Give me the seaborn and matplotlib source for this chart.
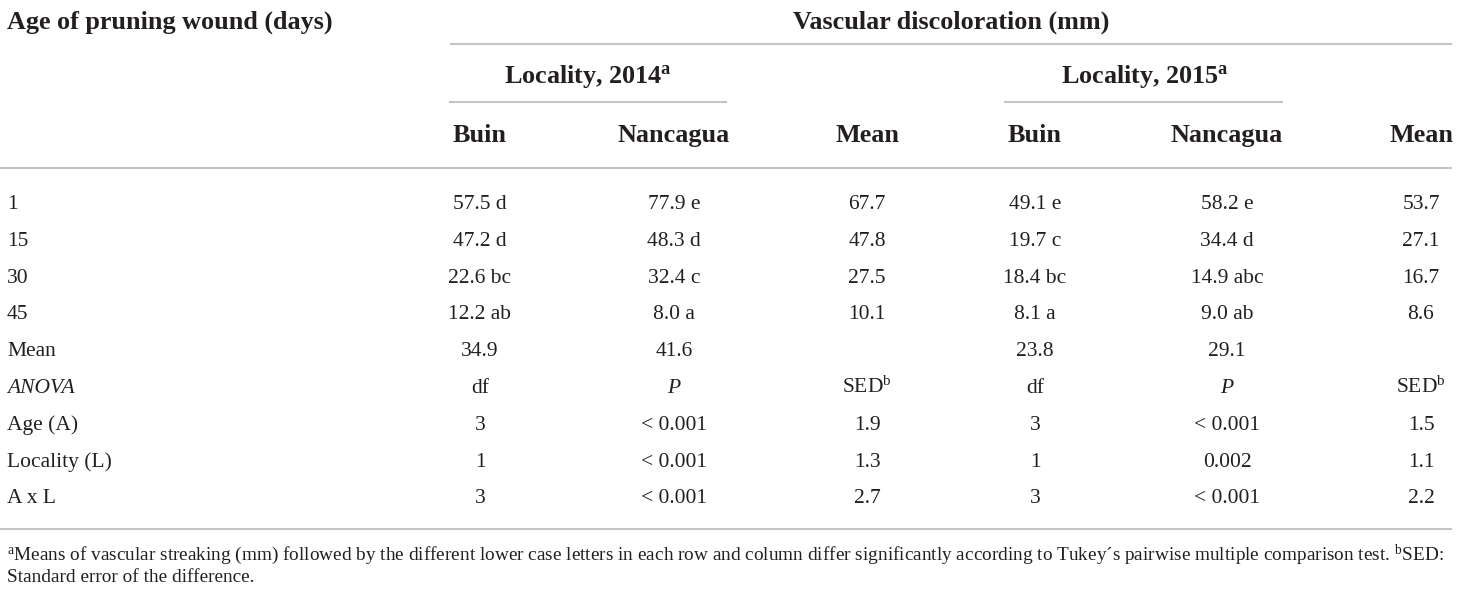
import matplotlib
matplotlib.use("Agg")
import matplotlib.pyplot as plt
import seaborn as sns
import pandas as pd

# === Datos de la tabla ===
ages = ["1", "15", "30", "45"]

buin_2014 = [57.5, 47.2, 22.6, 12.2]
buin_2014_grp = ["d", "d", "bc", "ab"]
nanc_2014 = [77.9, 48.3, 32.4, 8.0]
nanc_2014_grp = ["e", "d", "c", "a"]
mean_2014 = [67.7, 47.8, 27.5, 10.1]

buin_2015 = [49.1, 19.7, 18.4, 8.1]
buin_2015_grp = ["e", "c", "bc", "a"]
nanc_2015 = [58.2, 34.4, 14.9, 9.0]
nanc_2015_grp = ["e", "d", "abc", "ab"]
mean_2015 = [53.7, 27.1, 16.7, 8.6]

loc_mean_2014 = [34.9, 41.6]
loc_mean_2015 = [23.8, 29.1]

anova_terms = ["Age (A)", "Locality (L)", "A x L"]
anova_df = [3, 1, 3]
p_2014 = ["< 0.001", "< 0.001", "< 0.001"]
p_2015 = ["< 0.001", "0.002", "< 0.001"]
sed_2014 = [1.9, 1.3, 2.7]
sed_2015 = [1.5, 1.1, 2.2]

footnote_1 = ("$^{\\mathrm{a}}$Means of vascular streaking (mm) followed by the different lower case "
              "letters in each row and column differ significantly according to Tukey\u00b4s pairwise "
              "multiple comparison test. $^{\\mathrm{b}}$SED:")
footnote_2 = "Standard error of the difference."

# === Armar la tabla con pandas ===
def fmt(v, g):
    return f"{v:.1f} {g}"

rows = pd.DataFrame({
    "label": ages,
    "b14": [fmt(v, g) for v, g in zip(buin_2014, buin_2014_grp)],
    "n14": [fmt(v, g) for v, g in zip(nanc_2014, nanc_2014_grp)],
    "m14": [f"{v:.1f}" for v in mean_2014],
    "b15": [fmt(v, g) for v, g in zip(buin_2015, buin_2015_grp)],
    "n15": [fmt(v, g) for v, g in zip(nanc_2015, nanc_2015_grp)],
    "m15": [f"{v:.1f}" for v in mean_2015],
})
rows.loc[len(rows)] = ["Mean", f"{loc_mean_2014[0]:.1f}", f"{loc_mean_2014[1]:.1f}", "",
                       f"{loc_mean_2015[0]:.1f}", f"{loc_mean_2015[1]:.1f}", ""]
rows.loc[len(rows)] = ["ANOVA", "df", "P", "SED$^{\\mathrm{b}}$", "df", "P", "SED$^{\\mathrm{b}}$"]
for i, term in enumerate(anova_terms):
    rows.loc[len(rows)] = [term, str(anova_df[i]), p_2014[i], f"{sed_2014[i]:.1f}",
                           str(anova_df[i]), p_2015[i], f"{sed_2015[i]:.1f}"]

# === Estilo ===
sns.set_theme(style="white")
plt.rcParams["font.family"] = ["Liberation Serif", "DejaVu Serif"]
plt.rcParams["mathtext.fontset"] = "custom"
plt.rcParams["mathtext.rm"] = "Liberation Serif"
plt.rcParams["mathtext.it"] = "Liberation Serif:italic"
plt.rcParams["mathtext.bf"] = "Liberation Serif:bold"

INK = "#231f20"
RULE = "#c4c4c4"
HEAD = 18.8
BODY = 15.5

fig = plt.figure(figsize=(14.6, 5.91), dpi=100)
ax = fig.add_axes([0, 0, 1, 1])
ax.set_xlim(0, 1460)
ax.set_ylim(591, 0)
ax.axis("off")

col_x = [480, 674, 867, 1035, 1227, 1421]
cols = ["b14", "n14", "m14", "b15", "n15", "m15"]

# encabezados
ax.text(7, 29, "Age of pruning wound (days)", fontsize=HEAD, fontweight="bold", color=INK, va="baseline")
ax.text(951, 29, "Vascular discoloration (mm)", fontsize=HEAD, fontweight="bold", color=INK,
        ha="center", va="baseline")
ax.text(588, 83, "Locality, 2014$^{\\mathbf{a}}$", fontsize=HEAD, fontweight="bold", color=INK,
        ha="center", va="baseline")
ax.text(1145, 83, "Locality, 2015$^{\\mathbf{a}}$", fontsize=HEAD, fontweight="bold", color=INK,
        ha="center", va="baseline")
for x, name in zip(col_x, ["Buin", "Nancagua", "Mean", "Buin", "Nancagua", "Mean"]):
    ax.text(x, 142, name, fontsize=HEAD, fontweight="bold", color=INK, ha="center", va="baseline")

# líneas
ax.hlines(44, 450, 1452, color=RULE, lw=1.5)
ax.hlines(102, 449, 727, color=RULE, lw=1.5)
ax.hlines(102, 1004, 1283, color=RULE, lw=1.5)
ax.hlines(168, 0, 1452, color=RULE, lw=1.5)
ax.hlines(529, 0, 1452, color=RULE, lw=1.5)

# filas
for i, row in rows.iterrows():
    yb = 202.5 + 36.8 * i + 6.5
    lab_style = "italic" if row["label"] == "ANOVA" else "normal"
    ax.text(7, yb, row["label"], fontsize=BODY, color=INK, style=lab_style, va="baseline")
    for x, c in zip(col_x, cols):
        st = "italic" if row[c] == "P" else "normal"
        ax.text(x, yb, row[c], fontsize=BODY, color=INK, style=st, ha="center", va="baseline")

# notas al pie (ajustar al ancho)
fig.canvas.draw()
r = fig.canvas.get_renderer()
t1 = ax.text(7, 560.5, footnote_1, fontsize=13, color=INK, va="baseline")
w = t1.get_window_extent(renderer=r).width
fs = 13 * 1437 / w
t1.set_fontsize(fs)
ax.text(7, 582.5, footnote_2, fontsize=fs, color=INK, va="baseline")

fig.savefig("out.png", dpi=100)
